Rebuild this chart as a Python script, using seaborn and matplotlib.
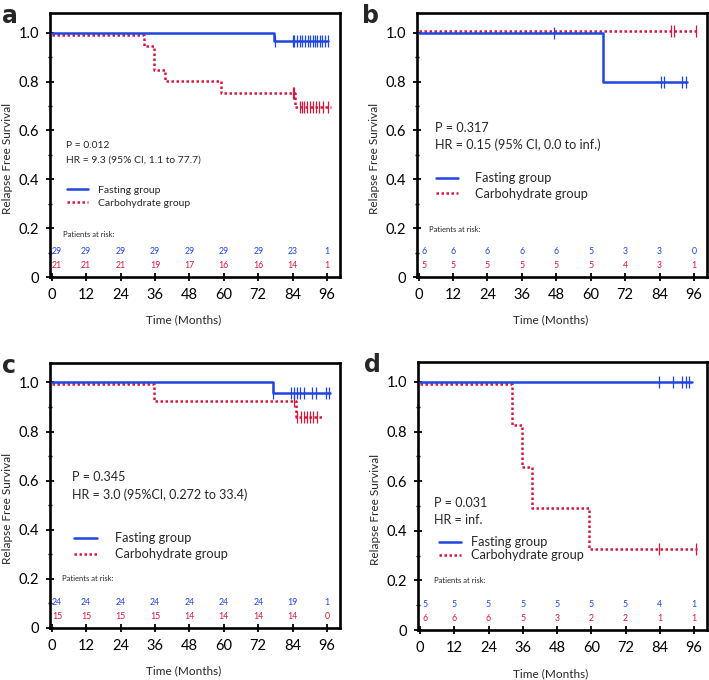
import matplotlib
matplotlib.use("Agg")
import matplotlib.pyplot as plt
import matplotlib.transforms as mtransforms
from matplotlib.ticker import MultipleLocator
import numpy as np
import pandas as pd
import seaborn as sns

# ---- data ----
months = [0, 12, 24, 36, 48, 60, 72, 84, 96]

# panel a
a_fast_t = [0, 77.5, 96.5]
a_fast_s = [1.0, 0.966, 0.966]
a_fast_c = [77.8, 84, 84.6, 85.5, 86.4, 87.3, 88.2, 89.2, 90.2, 91, 91.8, 92.6, 93.5, 94.3, 95.2, 96.2]
a_carb_t = [0, 32.2, 35.7, 39.4, 59, 84.8, 97.3]
a_carb_s = [1.0, 0.952, 0.857, 0.81, 0.762, 0.706, 0.706]
a_carb_c = [84, 84.6, 86.5, 87.2, 88, 89, 90, 91, 92, 93.2, 94.6, 96.4]
a_risk_fast = [29, 29, 29, 29, 29, 29, 29, 23, 1]
a_risk_carb = [21, 21, 21, 19, 17, 16, 16, 14, 1]

# panel b
b_fast_t = [0, 64.2, 93.6]
b_fast_s = [1.0, 0.8, 0.8]
b_fast_c = [47.2, 84.4, 85.6, 91.9, 93.1]
b_carb_t = [0, 97]
b_carb_s = [1.0, 1.0]
b_carb_c = [87.9, 89.1, 96.6]
b_risk_fast = [6, 6, 6, 6, 6, 5, 3, 3, 0]
b_risk_carb = [5, 5, 5, 5, 5, 5, 4, 3, 1]

# panel c
c_fast_t = [0, 77.1, 97]
c_fast_s = [1.0, 0.958, 0.958]
c_fast_c = [77.3, 83.4, 84.4, 85.5, 86.7, 87.9, 90.8, 92, 95.5, 96.7]
c_carb_t = [0, 35.7, 85, 94.4]
c_carb_s = [1.0, 0.933, 0.867, 0.867]
c_carb_c = [84.4, 85.6, 86.8, 88, 89, 90, 91, 92.4]
c_risk_fast = [24, 24, 24, 24, 24, 24, 24, 19, 1]
c_risk_carb = [15, 15, 15, 15, 14, 14, 14, 14, 0]

# panel d
d_fast_t = [0, 95.3]
d_fast_s = [1.0, 1.0]
d_fast_c = [83.8, 88.7, 91.9, 93.1, 94.2]
d_carb_t = [0, 32.3, 35.7, 39.2, 59.1, 97]
d_carb_s = [1.0, 0.833, 0.667, 0.5, 0.333, 0.333]
d_carb_c = [83.7, 96.6]
d_risk_fast = [5, 5, 5, 5, 5, 5, 5, 4, 1]
d_risk_carb = [6, 6, 6, 5, 3, 2, 2, 1, 1]

stat_a = ["P = 0.012", "HR = 9.3 (95% CI, 1.1 to 77.7)"]
stat_b = ["P = 0.317", "HR = 0.15 (95% CI, 0.0 to inf.)"]
stat_c = ["P = 0.345", "HR = 3.0 (95%CI, 0.272 to 33.4)"]
stat_d = ["P = 0.031", "HR = inf."]

BLUE = "#1f45e0"
RED = "#d3183f"

sns.set_theme(style="ticks")
plt.rcParams["font.family"] = ["Lato", "DejaVu Sans"]

fig = plt.figure(figsize=(7.09, 6.8), dpi=100)

panels = [
    dict(letter="a", rect=[0.0705, 0.5926, 0.409, 0.388], lx=0.003,
         fast=(a_fast_t, a_fast_s, a_fast_c), carb=(a_carb_t, a_carb_s, a_carb_c),
         risk=(a_risk_fast, a_risk_carb), stat=stat_a, stat_pos=(0.054, 0.50, 0.443), stat_fs=7.4,
         leg=(0.059, 0.305), leg_fs=7.5, hl=2.0, htp=1.0, ls=0.35, par=(0.046, 0.163), red_off=-2),
    dict(letter="b", rect=[0.588, 0.5926, 0.409, 0.388], lx=0.511,
         fast=(b_fast_t, b_fast_s, b_fast_c), carb=(b_carb_t, b_carb_s, b_carb_c),
         risk=(b_risk_fast, b_risk_carb), stat=stat_b, stat_pos=(0.062, 0.566, 0.50), stat_fs=9.1,
         leg=(0.066, 0.345), leg_fs=9.2, hl=1.75, htp=1.3, ls=0.25, par=(0.041, 0.18), red_off=2),
    dict(letter="c", rect=[0.0705, 0.0765, 0.409, 0.390], lx=0.003,
         fast=(c_fast_t, c_fast_s, c_fast_c), carb=(c_carb_t, c_carb_s, c_carb_c),
         risk=(c_risk_fast, c_risk_carb), stat=stat_c, stat_pos=(0.075, 0.571, 0.502), stat_fs=9.0,
         leg=(0.083, 0.308), leg_fs=9.2, hl=1.8, htp=1.4, ls=0.3, par=(0.04, 0.188), red_off=-2),
    dict(letter="d", rect=[0.590, 0.0735, 0.407, 0.394], lx=0.513,
         fast=(d_fast_t, d_fast_s, d_fast_c), carb=(d_carb_t, d_carb_s, d_carb_c),
         risk=(d_risk_fast, d_risk_carb), stat=stat_d, stat_pos=(0.053, 0.475, 0.41), stat_fs=9.0,
         leg=(0.07, 0.303), leg_fs=9.2, hl=1.75, htp=0.8, ls=0.1, par=(0.053, 0.183), red_off=-2),
]


def step_value(t_list, s_list, t):
    idx = np.searchsorted(np.asarray(t_list), t, side="right") - 1
    return np.asarray(s_list)[idx]


for p in panels:
    ax = fig.add_axes(p["rect"])
    for key, color, ls, label in [("carb", RED, (0, (1, 1)), "Carbohydrate group"),
                                  ("fast", BLUE, "-", "Fasting group")]:
        t, s, c = p[key]
        off = p["red_off"] if key == "carb" else 0
        tr = mtransforms.offset_copy(ax.transData, fig=fig, y=off, units="dots")
        df = pd.DataFrame({"t": t, "s": s})
        sns.lineplot(data=df, x="t", y="s", ax=ax, color=color, linestyle=ls, lw=1.8,
                     drawstyle="steps-post", label=label, transform=tr, zorder=3 if key == "fast" else 2)
        cdf = pd.DataFrame({"t": c, "s": [step_value(t, s, ci) for ci in c]})
        ax.plot(cdf["t"], cdf["s"], linestyle="none", marker="|", ms=8, mew=0.9,
                color=color, transform=tr, zorder=4)

    ax.set_xlim(-0.6, 100.5)
    ax.set_ylim(0, 1.08)
    ax.set_xticks(months)
    ax.set_yticks([0, 0.2, 0.4, 0.6, 0.8, 1.0])
    ax.set_yticklabels(["0", "0.2", "0.4", "0.6", "0.8", "1.0"])
    ax.yaxis.set_minor_locator(MultipleLocator(0.1))
    ax.tick_params(axis="both", which="major", direction="inout", length=6, width=1.3,
                   labelsize=10.5, color="black", labelcolor="black", pad=5)
    ax.tick_params(axis="y", which="minor", direction="inout", length=3, width=1.0, color="black")
    for sp in ax.spines.values():
        sp.set_visible(True)
        sp.set_linewidth(1.9)
        sp.set_color("black")
    ax.set_xlabel("Time (Months)", fontsize=8.5)
    ax.set_ylabel("Relapse Free Survival", fontsize=8.5)
    ax.xaxis.set_label_coords(0.46, -0.142)
    ax.yaxis.set_label_coords(-0.128, 0.45)

    # legend
    h, l = ax.get_legend_handles_labels()
    order = [l.index("Fasting group"), l.index("Carbohydrate group")]
    ax.legend([h[i] for i in order], [l[i] for i in order], loc="center left",
              bbox_to_anchor=(p["leg"][0], p["leg"][1]), frameon=False, fontsize=p["leg_fs"],
              handlelength=p["hl"], handletextpad=p["htp"], labelspacing=p["ls"],
              borderaxespad=0, borderpad=0)

    # stats text
    sx, sy1, sy2 = p["stat_pos"]
    ax.text(sx, sy1, p["stat"][0], transform=ax.transAxes, fontsize=p["stat_fs"], va="center")
    ax.text(sx, sy2, p["stat"][1], transform=ax.transAxes, fontsize=p["stat_fs"], va="center")

    # patients at risk
    ax.text(p["par"][0], p["par"][1], "Patients at risk:", transform=ax.transAxes,
            fontsize=5.5, va="center")
    xt = ax.get_xaxis_transform()
    rf, rc = p["risk"]
    for m, nf, nc in zip(months, rf, rc):
        xm = max(m, 1.8)
        ax.text(xm, 0.097, str(nf), transform=xt, color=BLUE, fontsize=6.3, ha="center", va="center")
        ax.text(xm, 0.043, str(nc), transform=xt, color=RED, fontsize=6.3, ha="center", va="center")

    # panel letter
    top = p["rect"][1] + p["rect"][3]
    fig.text(p["lx"], top + 0.013, p["letter"], fontsize=17, fontweight="bold", va="top",
             family=["DejaVu Sans"])

fig.savefig("out.png", dpi=100)
